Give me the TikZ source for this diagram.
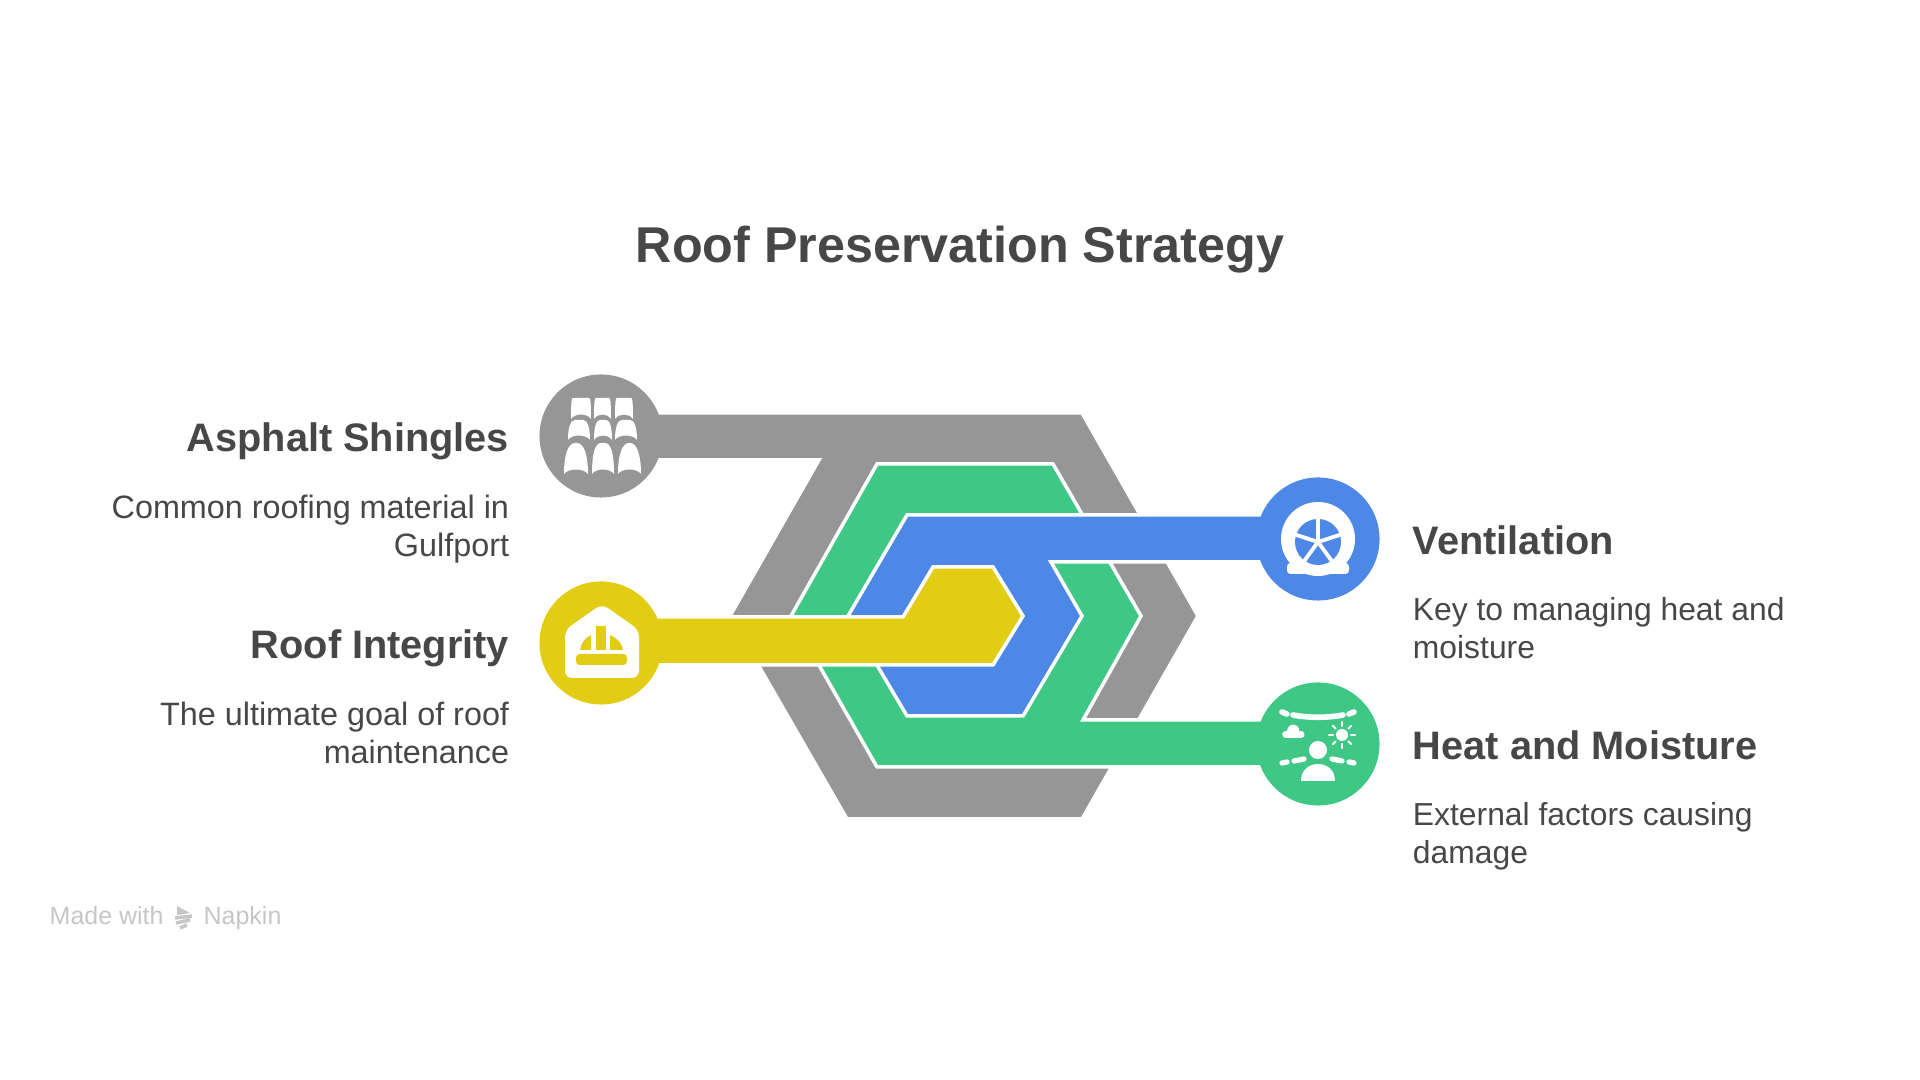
\documentclass[tikz,border=0pt]{standalone}
\usepackage{fontspec}
\setmainfont{Liberation Sans}
\usepackage{xcolor}
\usepackage{tikz}
\usetikzlibrary{positioning}
\definecolor{roof_gray}{HTML}{969696}
\definecolor{roof_green}{HTML}{3FC785}
\definecolor{roof_blue}{HTML}{4E88E6}
\definecolor{roof_yellow}{HTML}{E2CC14}
\definecolor{roof_text}{HTML}{474747}
\definecolor{roof_mark}{HTML}{C6C6C6}

\begin{document}
\begin{tikzpicture}[
      x=0.01cm,y=-0.01cm,
      band_st/.style={
         draw=white,
         line width=1pt,
         line join=miter},
      circle_node/.style={
         circle,
         inner sep=0pt,
         minimum size=1.23cm},
      title_st/.style={
         inner sep=0pt,
         text=roof_text,
         font=\fontsize{14.3}{17}\selectfont\bfseries},
      head_st/.style={
         inner sep=0pt,
         text=roof_text,
         text height=9.8pt,
         text depth=1.2pt,
         font=\fontsize{11.3}{13}\selectfont\bfseries},
      desc_left/.style={
         inner sep=0pt,
         align=right,
         text=roof_text,
         font=\fontsize{9.2}{10.8}\selectfont},
      desc_right/.style={
         desc_left,
         align=left,
         font=\fontsize{9.05}{10.8}\selectfont},
      mark_st/.style={
         inner sep=0pt,
         text=roof_mark,
         font=\fontsize{7.1}{8}\selectfont}
]
      \useasboundingbox (0,0) rectangle (1920,1080);

      %title
      \node[title_st] (title) at (960,250) {Roof Preservation Strategy};

      %bands
      \filldraw[band_st,fill=roof_gray] (600,413) -- (1082,413) -- (1198,616) -- (1082,819) -- (847,819) -- (730,616) -- (819,460) -- (600,460) -- cycle;
      \filldraw[band_st,fill=roof_green] (877,464) -- (1053,464) -- (1141,616) -- (1083,720) -- (1318,720) -- (1318,767) -- (877,767) -- (791,616) -- cycle;
      \filldraw[band_st,fill=roof_blue] (1318,515) -- (907,515) -- (848,616) -- (907,716) -- (1023,716) -- (1082,616) -- (1051,562) -- (1318,562) -- cycle;
      \filldraw[band_st,fill=roof_yellow] (600,617) -- (903,617) -- (933,567) -- (993,567) -- (1023,616) -- (993,665) -- (600,665) -- cycle;

      %circles
      \foreach \n/\cx/\cy/\col in {%
        shingles/601/436/roof_gray,
        integrity/601/643/roof_yellow,
        ventilation/1318/539/roof_blue,
        moisture/1318/744/roof_green}
        \node[circle_node,fill=\col] (\n) at (\cx,\cy) {};

      %left labels
      \node[head_st,left=0.29cm of shingles] (shingles_head) {Asphalt Shingles};
      \node[desc_left,below left=0.38cm and 0cm of shingles_head.south east] (shingles_desc) {Common roofing material in\\Gulfport};
      \node[head_st,left=0.29cm of integrity] (integrity_head) {Roof Integrity};
      \node[desc_left,below left=0.38cm and 0cm of integrity_head.south east] (integrity_desc) {The ultimate goal of roof\\maintenance};

      %right labels
      \node[head_st,right=0.32cm of ventilation] (ventilation_head) {Ventilation};
      \node[desc_right,below right=0.38cm and 0cm of ventilation_head.south west] (ventilation_desc) {Key to managing heat and\\moisture};
      \node[head_st,right=0.32cm of moisture] (moisture_head) {Heat and Moisture};
      \node[desc_right,below right=0.38cm and 0cm of moisture_head.south west] (moisture_desc) {External factors causing\\damage};

      %shingles icon
      \begin{scope}[shift={(shingles)}]
        \foreach \a/\b/\c/\d/\r in {%
          -30/-38/-10/-17/2, -7/-38/10/-17/2, 14/-38/32/-17/2,
          -33/-16/-11/4/7, -7/-16/11/4/6, 14/-16/36/4/7,
          -37/7/-13/38/11, -9/7/13/38/9, 17/7/40/38/11}
          \fill[white] (\a,\d) .. controls (\a,\b+\r) and (\a+0.4*\r,\b) .. (\a+\r,\b)
            -- (\c-\r,\b) .. controls (\c-0.4*\r,\b) and (\c,\b+\r) .. (\c,\d)
            .. controls ({\c-4},\d-6) and ({\a+4},\d-6) .. (\a,\d) -- cycle;
      \end{scope}

      %hard hat icon
      \begin{scope}[shift={(integrity)}]
        \fill[white,rounded corners=2pt] (1,-39) -- (38,-13) -- (38,35) -- (-36,35) -- (-36,-13) -- cycle;
        \fill[roof_yellow] (-5,-17) rectangle (5,7);
        \fill[roof_yellow] (-21,7) .. controls (-20,0) and (-16,-5) .. (-10,-8) -- (-10,7) -- cycle;
        \fill[roof_yellow] (22,7) .. controls (21,0) and (16,-5) .. (9,-8) -- (9,7) -- cycle;
        \fill[roof_yellow,rounded corners=1pt] (-25,11) rectangle (26,22);
      \end{scope}

      %wheel icon
      \begin{scope}[shift={(ventilation)}]
        \fill[white] (0,0) circle [radius=37];
        \fill[white,rounded corners=1pt] (-31,24) rectangle (31,35);
        \fill[roof_blue] (0,3) circle [radius=23];
        \foreach \ang in {90,162,18,234,306}
          \draw[white,line width=1.1pt] (0,3) -- ++({24*cos(\ang)},{-24*sin(\ang)});
      \end{scope}

      %weather icon
      \begin{scope}[shift={(moisture)},line cap=round]
        \draw[white,line width=1.6pt] (-25,-29) .. controls (-10,-26) and (10,-26) .. (25,-29);
        \draw[white,line width=1.6pt] (-36,-32) -- (-31,-30) (36,-32) -- (31,-30);
        \draw[white,line width=1.5pt] (-36,19) -- (-31,18) (-24,17) -- (-14,15) (36,19) -- (31,18) (24,17) -- (14,15);
        \fill[white] (-31,-6) .. controls (-38,-6) and (-37,-14) .. (-31,-13) .. controls (-30,-22) and (-18,-21) .. (-19,-13) .. controls (-12,-14) and (-12,-6) .. (-17,-6) -- cycle;
        \fill[white] (24,-9) circle [radius=6];
        \foreach \ang in {0,45,...,315}
          \draw[white,line width=0.6pt] (24,-9) ++(\ang:9) -- ++(\ang:4);
        \fill[white] (0,6) circle [radius=9];
        \fill[white] (-17,37) .. controls (-17,25) and (-8,20) .. (0,20) .. controls (8,20) and (17,25) .. (17,37) -- cycle;
      \end{scope}

      %watermark
      \node[mark_st,anchor=base west] (made) at (49,925) {Made with};
      \node[mark_st,anchor=base west] (napkin) at (203,925) {Napkin};
      \fill[roof_mark] (177,906) -- (190,913) -- (177,915) -- cycle;
      \draw[roof_mark,line width=1pt] (175,918) -- (192,916) (176,923) -- (190,920) (180,928) -- (187,925);
\end{tikzpicture}
\end{document}
